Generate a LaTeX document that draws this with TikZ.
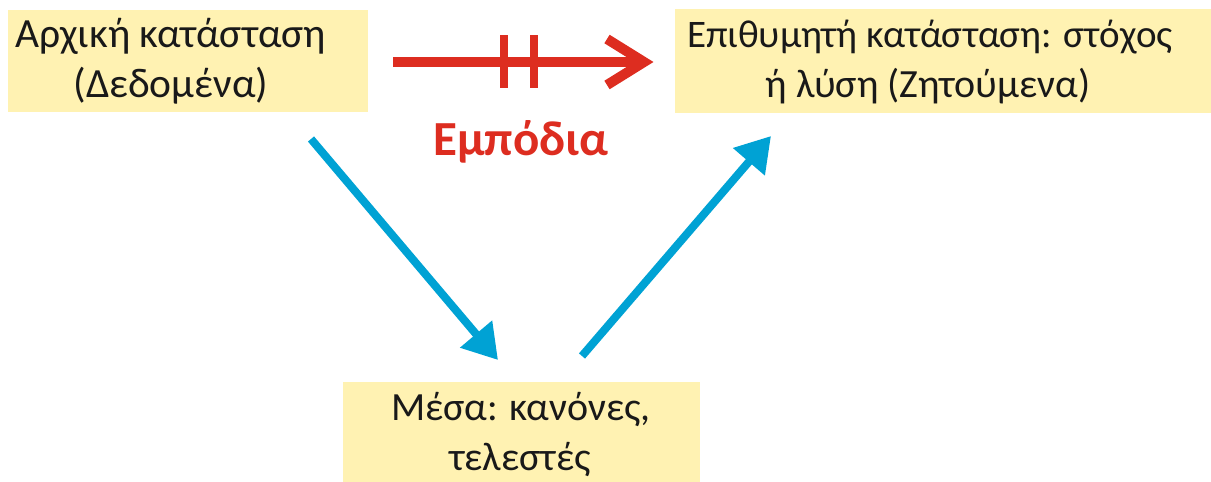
\documentclass[tikz,border=0pt]{standalone}
\usepackage{fontspec}
\setmainfont{Carlito}
\usetikzlibrary{arrows.meta}
\definecolor{boxfill}{RGB}{255,242,178}
\definecolor{redc}{RGB}{221,45,32}
\definecolor{bluec}{RGB}{0,162,212}
\definecolor{txt}{RGB}{25,25,25}
\tikzset{
  box/.style={fill=boxfill, draw=none, inner sep=0pt},
  line/.style={font=\fontsize{40}{50}\selectfont, text=txt, inner sep=0pt, anchor=base},
  redline/.style={draw=redc, line width=10pt},
  bluearrow/.style={draw=bluec, line width=8pt, -{Triangle[length=34pt,width=40pt]}},
}
\begin{document}
\begin{tikzpicture}[x=1pt,y=-1pt]
\useasboundingbox (0,0) rectangle (1211,482);
% boxes
\node[box, minimum width=360pt, minimum height=102pt] (b1) at (188,61) {};
\node[box, minimum width=536pt, minimum height=104pt] (b2) at (943,61) {};
\node[box, minimum width=357pt, minimum height=100pt] (b3) at (521.5,432) {};
% texts
\node[line, font=\fontsize{41.5}{50}\selectfont] (t1a) at (170.5,47) {Αρχική κατάσταση};
\node[line, font=\fontsize{41.5}{50}\selectfont] (t1b) at (171,97) {(Δεδομένα)};
\node[line, font=\fontsize{39}{50}\selectfont] (t2a) at (930,47) {Επιθυμητή κατάσταση: στόχος};
\node[line] (t2b) at (928,97) {ή λύση (Ζητούμενα)};
\node[line] (t3a) at (521,420) {Μέσα: κανόνες,};
\node[line] (t3b) at (520,470) {τελεστές};
% red arrow (obstacles)
\coordinate (rs) at (393,62);
\coordinate (re) at (640,62);
\coordinate (ru) at (607,39);
\coordinate (rt) at (644,62);
\coordinate (rd) at (607,85);
\draw[redline] (rs) -- (re);
\draw[redline, line join=miter, miter limit=10] (ru) -- (rt) -- (rd);
\coordinate (k1t) at (504,35); \coordinate (k1b) at (504,88);
\coordinate (k2t) at (534,35); \coordinate (k2b) at (534,88);
\draw[draw=redc, line width=8pt] (k1t) -- (k1b);
\draw[draw=redc, line width=8pt] (k2t) -- (k2b);
\node[font=\fontsize{49}{56}\selectfont\bfseries, text=redc, inner sep=0pt, anchor=base] (emp) at (521,155) {Εμπόδια};
% blue arrows
\coordinate (a1s) at (311,139);
\coordinate (a1e) at (498,360);
\coordinate (a2s) at (582,356);
\coordinate (a2e) at (771,136);
\draw[bluearrow] (a1s) -- (a1e);
\draw[bluearrow] (a2s) -- (a2e);
\end{tikzpicture}
\end{document}
